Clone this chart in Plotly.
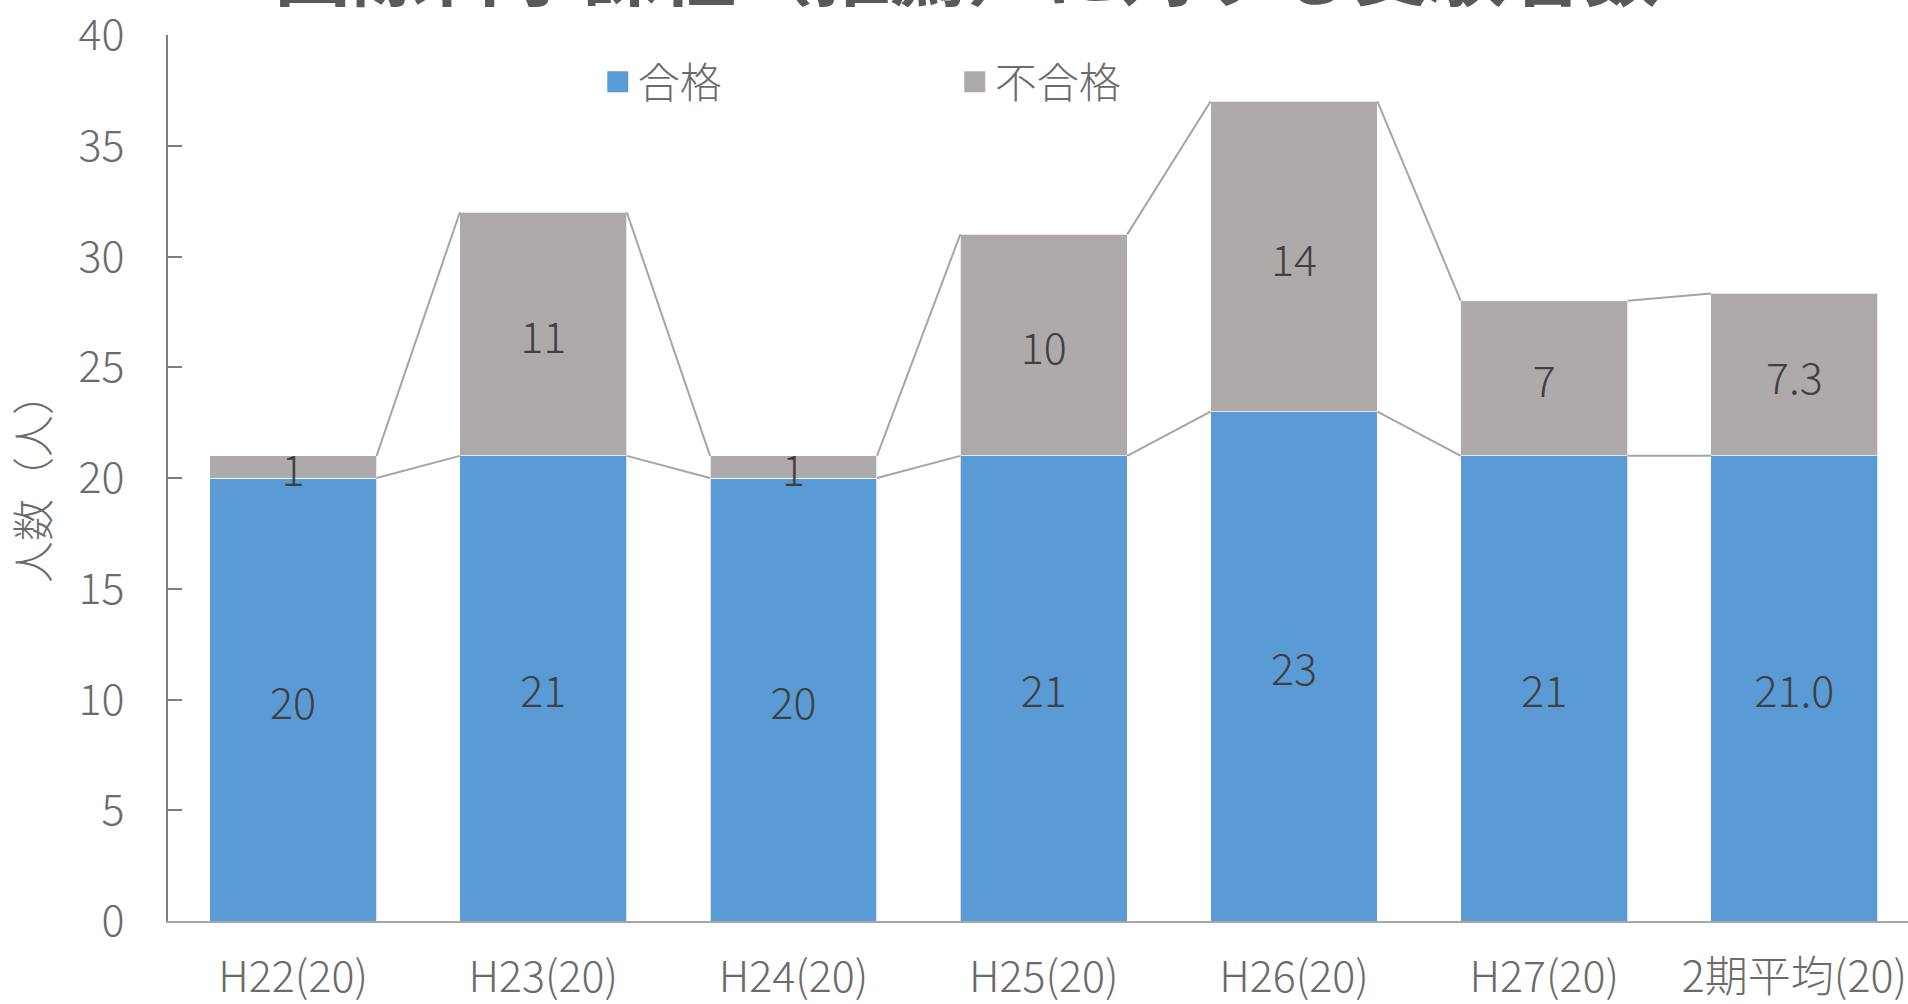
import plotly.graph_objects as go

categories = ["H22(20)", "H23(20)", "H24(20)", "H25(20)", "H26(20)", "H27(20)", "2期平均(20)"]
passed = [20, 21, 20, 21, 23, 21, 21.0]
failed = [1, 11, 1, 10, 14, 7, 7.33]
decimals = [0, 0, 0, 0, 0, 0, 1]
series_names = ["合格", "不合格"]
title_text = "国際科学課程（推薦）に対する受験者数"
y_title = "人数（人）"

BLUE = "#5B9BD5"
GRAY = "#AEAAAA"
FONT = "Noto Sans CJK JP"
BAR_W = 0.667

x = list(range(len(categories)))

def fmt(vals):
    return [f"{v:.{d}f}" for v, d in zip(vals, decimals)]

fig = go.Figure()

# series lines (Excel style) connecting segment tops of adjacent bars
tops_pass = passed
tops_total = [p + f for p, f in zip(passed, failed)]
for tops in (tops_pass, tops_total):
    lx, ly = [], []
    for i in range(len(x) - 1):
        lx += [x[i] + BAR_W / 2, x[i + 1] - BAR_W / 2, None]
        ly += [tops[i], tops[i + 1], None]
    fig.add_trace(go.Scatter(x=lx, y=ly, mode="lines", line=dict(color="#A5A5A5", width=2),
                             showlegend=False, hoverinfo="skip"))

for name, vals, color in ((series_names[0], passed, BLUE), (series_names[1], failed, GRAY)):
    fig.add_trace(go.Bar(
        x=x, y=vals, name=name, width=BAR_W, legendgroup=name, showlegend=False,
        marker=dict(color=color, line=dict(color="rgba(255,255,255,0.7)", width=1)),
        text=fmt(vals), textposition="inside", insidetextanchor="middle", textangle=0,
        constraintext="none", cliponaxis=False,
        textfont=dict(family=FONT, size=43, color="#404040", weight=300),
    ))
    # legend entry with a larger square key
    fig.add_trace(go.Scatter(
        x=[None], y=[None], mode="markers", name=name, legendgroup=name,
        marker=dict(symbol="square", size=16, color=color, line=dict(color=color, width=5)),
        hoverinfo="skip",
    ))

fig.update_layout(
    width=1908, height=1004,
    barmode="stack",
    plot_bgcolor="white", paper_bgcolor="white",
    margin=dict(l=168, r=0, t=35, b=83),
    font=dict(family=FONT, color="#6B6B6B", weight=300),
    title=dict(text=title_text, xref="container", x=0.507, xanchor="center",
               yref="container", y=1.0, yanchor="bottom",
               font=dict(family=FONT, size=77, color="#595959", weight=700)),
    legend=dict(orientation="h", x=0.247, xanchor="left", y=0.947, yanchor="middle",
                traceorder="normal",
                font=dict(family=FONT, size=42, color="#6B6B6B", weight=300),
                entrywidth=312, entrywidthmode="pixels", bgcolor="rgba(0,0,0,0)"),
    xaxis=dict(range=[-0.5, 6.454], tickvals=x, ticktext=categories, automargin=False,
               showline=True, linecolor="#A6A6A6", linewidth=2, ticks="",
               showgrid=False, zeroline=False, ticklabelstandoff=17,
               tickfont=dict(family=FONT, size=43, color="#6B6B6B", weight=300)),
    yaxis=dict(range=[0, 40], dtick=5, showline=True, linecolor="#7F7F7F", linewidth=2,
               automargin=False,
               ticks="inside", ticklen=14, tickwidth=2, tickcolor="#7F7F7F",
               showgrid=False, zeroline=False, ticklabelstandoff=33,
               tickfont=dict(family=FONT, size=43, color="#6B6B6B", weight=300),
               title=dict(text=y_title, standoff=25,
                          font=dict(family=FONT, size=42, color="#6B6B6B", weight=300))),
)

fig.write_html("out.html", config={"displayModeBar": False},
               post_script="document.body.style.margin='0px';")
